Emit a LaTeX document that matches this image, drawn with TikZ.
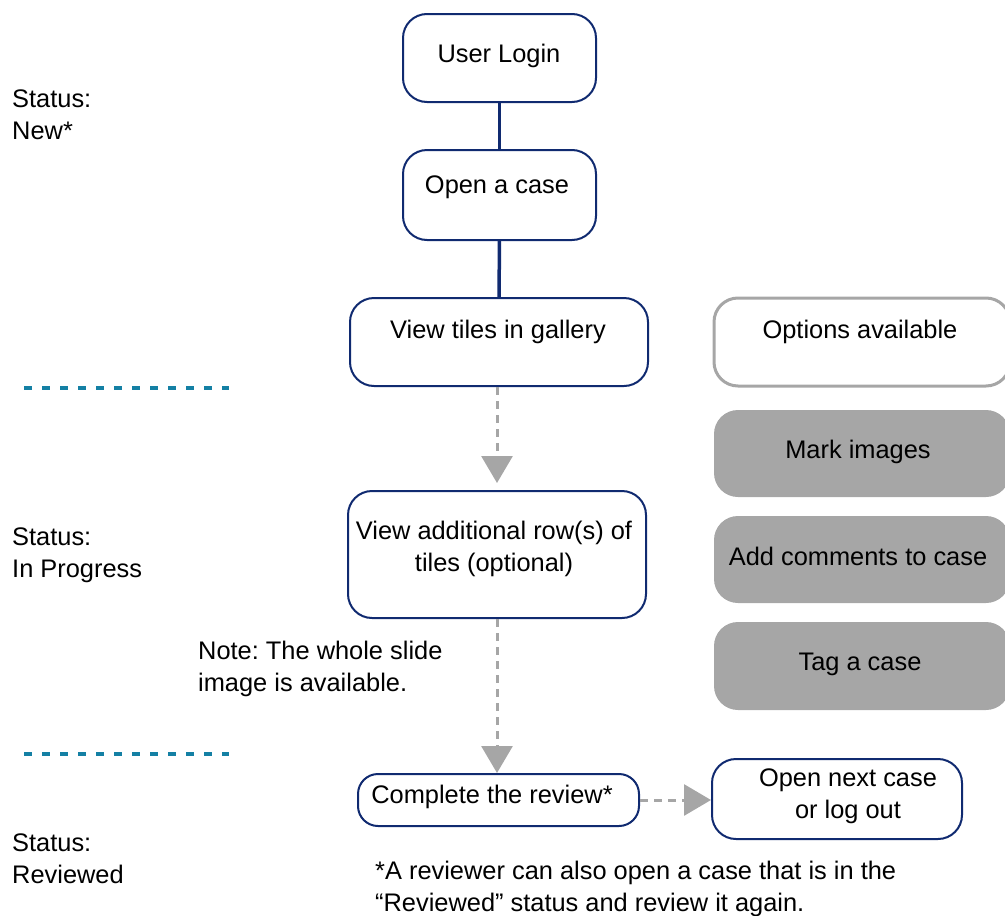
\documentclass[tikz,border=0pt]{standalone}
\usepackage{fontspec}
\setmainfont{Liberation Sans}
\usetikzlibrary{arrows.meta}
\definecolor{navy}{RGB}{16,42,112}
\definecolor{arrgray}{RGB}{166,166,166}
\definecolor{divteal}{RGB}{20,128,164}
\frenchspacing
\begin{document}
\begin{tikzpicture}[x=1pt,y=-1pt,
 txt/.style={font=\fontsize{25.4pt}{32pt}\selectfont, inner sep=0pt, align=center},
 ltxt/.style={font=\fontsize{25.4pt}{32pt}\selectfont, inner sep=0pt, align=left, anchor=west},
 box/.style={draw=navy, line width=2pt, rounded corners=24pt, rectangle, inner sep=0pt},
 optbox/.style={draw=arrgray, line width=3pt, rounded corners=24pt, rectangle, inner sep=0pt},
 graybox/.style={fill=arrgray, draw=none, rounded corners=24pt, rectangle, inner sep=0pt},
 solidlink/.style={draw=navy, line width=3.5pt},
 dashlink/.style={draw=arrgray, line width=3pt, dash pattern=on 8pt off 6pt, -{Triangle[width=31pt,length=27pt]}},
 divider/.style={draw=divteal, line width=3.5pt, dash pattern=on 8pt off 10pt}]
\useasboundingbox (0,0) rectangle (1005,916);
\clip (0,0) rectangle (1005,916);

% boxes
\node[box, minimum width=193pt, minimum height=88pt] (login) at (499.5,58) {};
\node[box, minimum width=193pt, minimum height=90pt] (open) at (499.5,195) {};
\node[box, minimum width=298pt, minimum height=88pt] (tiles) at (499,342) {};
\node[optbox, minimum width=296pt, minimum height=88pt] (opts) at (862,342) {};
\node[graybox, minimum width=296pt, minimum height=87pt] (mark) at (862,453.5) {};
\node[graybox, minimum width=296pt, minimum height=87pt] (comm) at (862,559.5) {};
\node[graybox, minimum width=296pt, minimum height=88pt] (tag) at (862,666) {};
\node[box, minimum width=298pt, minimum height=127pt] (addl) at (497,554.5) {};
\node[box, minimum width=281pt, minimum height=52pt, rounded corners=20pt] (complete) at (498.5,800) {};
\node[box, minimum width=250pt, minimum height=80pt] (next) at (837,799) {};

% box texts
\node[txt] (tlogin) at (499,56) {User Login};
\node[txt] (topen) at (497,187) {Open a case};
\node[txt] (ttiles) at (498,332) {View tiles in gallery};
\node[txt] (topts) at (860,332) {Options available};
\node[txt] (tmark) at (858,452) {Mark images};
\node[txt] (tcomm) at (858,556) {Add comments to case};
\node[txt] (ttag) at (860,664) {Tag a case};
\node[txt] (taddl) at (494,549) {View additional row(s) of\\tiles (optional)};
\node[txt] (tcomplete) at (492,797) {Complete the review*};
\node[txt] (tnext) at (848,796) {Open next case\\or log out};

% side labels
\node[ltxt] (snew) at (12,115) {Status:\\New*};
\node[ltxt] (sprog) at (12,555) {Status:\\In Progress};
\node[ltxt] (note) at (198,669) {Note: The whole slide\\image is available.};
\node[ltxt] (srev) at (12,859) {Status:\\Reviewed};
\node[ltxt] (foot) at (375,889) {*A reviewer can also open a case that is in the\\“Reviewed” status and review it again.};

% dividers
\draw[divider] (24,388) -- (229,388);
\draw[divider] (24,754) -- (229,754);

% connectors
\draw[solidlink] (login) -- (open);
\draw[solidlink] (open) -- (tiles);
\draw[dashlink, shorten >=7pt] (addl.north |- tiles.south) -- (addl.north);
\draw[dashlink] (addl.south) -- (addl.south |- complete.north);
\draw[dashlink] (complete.east) -- (complete.east -| next.west);
\end{tikzpicture}
\end{document}
